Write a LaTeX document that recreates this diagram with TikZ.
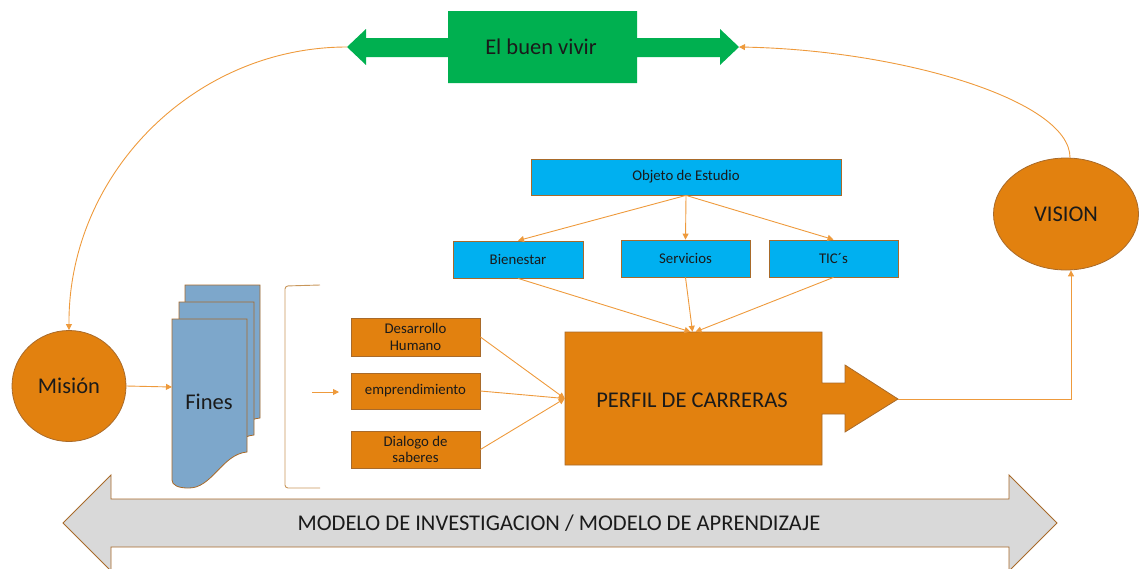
\documentclass[tikz,border=0pt]{standalone}
\usepackage{fontspec}
\setmainfont{Carlito}
\usetikzlibrary{arrows.meta,shapes.geometric}
\definecolor{orng}{HTML}{E2810F}
\definecolor{bordb}{HTML}{A86A2A}
\definecolor{cyanb}{HTML}{00B0F0}
\definecolor{greenb}{HTML}{00B050}
\definecolor{docblue}{HTML}{7DA7CB}
\definecolor{grayb}{HTML}{D9D9D9}
\definecolor{lineor}{HTML}{EE9A3C}
\definecolor{brk}{HTML}{C8965A}
\definecolor{txt}{HTML}{1A1A1A}
\tikzset{
  conn/.style={draw=lineor, line width=0.9pt, -{Triangle[length=6pt,width=6pt]}},
  obox/.style={draw=bordb, fill=orng, line width=0.8pt, minimum width=129pt, minimum height=37pt, inner sep=0pt, align=center, text=txt, font=\fontsize{14.8}{16.5}\selectfont},
  bbox/.style={draw=bordb, fill=cyanb, line width=0.8pt, minimum width=129pt, minimum height=37pt, inner sep=0pt, align=center, text=txt, font=\fontsize{14.8}{16.5}\selectfont},
  docshape/.style={draw=bordb, fill=docblue, line width=0.8pt},
  bigtxt/.style={font=\fontsize{22.5}{26}\selectfont, inner sep=0pt, text=txt}
}
\begin{document}
\begin{tikzpicture}[x=1pt,y=-1pt]
\useasboundingbox (0,0) rectangle (1139,568);
\clip (0,0) rectangle (1139,568);
% bottom double arrow
\draw[draw=bordb, fill=grayb, line width=0.9pt] (63,523) -- (111,475) -- (111,499) -- (1009,499) -- (1009,475) -- (1057,523) -- (1009,571) -- (1009,547) -- (111,547) -- (111,571) -- cycle;
\node[bigtxt] (modelo) at (559,523) {MODELO DE INVESTIGACION / MODELO DE APRENDIZAJE};
% El buen vivir
\fill[greenb] (448,11) -- (637,11) -- (637,38) -- (720,38) -- (720,29) -- (739,47) -- (720,65) -- (720,57) -- (637,57) -- (637,83) -- (448,83) -- (448,57) -- (366,57) -- (366,65) -- (347,47) -- (366,29) -- (366,38) -- (448,38) -- cycle;
\node[bigtxt] (buen) at (541,47) {El buen vivir};
\coordinate (bvL) at (347,47);
\coordinate (bvR) at (739,47);
% Mision
\node[ellipse, draw=bordb, fill=orng, line width=0.8pt, minimum width=114pt, minimum height=111pt, inner sep=0pt, text=txt, font=\fontsize{22.5}{26}\selectfont] (mision) at (69,386) {Misión};
% Vision
\node[ellipse, draw=bordb, fill=orng, line width=0.8pt, minimum width=145pt, minimum height=112pt, inner sep=0pt, text=txt, font=\fontsize{22.5}{26}\selectfont] (vision) at (1066,214) {VISION};
% Fines documents
\foreach \dx/\dy in {13/-34, 7/-17, 0/0}{
  \begin{scope}[shift={(\dx,\dy)}]
    \draw[docshape] (172,319) -- (247,319) -- (247,452) .. controls (222,454) and (212,489) .. (188,488) .. controls (178,488) and (172,485) .. (172,480) -- cycle;
  \end{scope}
}
\node[bigtxt] (fines) at (209,402) {Fines};
\coordinate (finesW) at (172,387);
% bracket
\draw[brk, line width=0.9pt, rounded corners=3pt] (320,285) -- (285,286) -- (285,488) -- (320,488);
\coordinate (brA) at (312,392);
\coordinate (brB) at (339,392);
% orange boxes
\node[obox, minimum height=38pt] (desa) at (415.5,337) {Desarrollo\\Humano};
\node[obox, minimum height=36pt] (empr) at (415.5,391) {emprendimiento};
\node[obox] (dial) at (415.5,449.5) {Dialogo de\\saberes};
% Perfil
\draw[draw=bordb, fill=orng, line width=0.8pt] (565,332) -- (822,332) -- (822,383) -- (845,383) -- (845,365) -- (898,399) -- (845,432) -- (845,414) -- (822,414) -- (822,465) -- (565,465) -- cycle;
\node[minimum width=257pt, minimum height=133pt, inner sep=0pt] (perfil) at (693.5,398.5) {};
\node[bigtxt] (perfiltxt) at (692,400) {PERFIL DE CARRERAS};
\coordinate (ptip) at (898,399);
% blue boxes
\node[bbox, minimum width=310pt, minimum height=36pt] (objeto) at (686,177) {Objeto de Estudio};
\node[bbox, minimum width=130pt] (bien) at (518,259.5) {Bienestar};
\node[bbox] (serv) at (685.5,258.5) {Servicios};
\node[bbox] (tic) at (833.5,258.5) {TIC´s};
% connectors
\draw[conn] (objeto.south) -- (bien.north);
\draw[conn] (objeto.south) -- (serv.north);
\draw[conn] (objeto.south) -- (tic.north);
\draw[conn] (bien.south) -- ([xshift=-3pt]perfil.north);
\draw[conn] (serv.south) -- ([xshift=-1pt]perfil.north);
\draw[conn] (tic.south) -- ([xshift=2pt]perfil.north);
\draw[conn] (desa.east) -- (perfil.west);
\draw[conn] (empr.east) -- (perfil.west);
\draw[conn] (dial.east) -- (perfil.west);
\draw[conn] (mision.east) -- (finesW);
\draw[conn] (brA) -- (brB);
\draw[conn] (ptip) -| ([xshift=5pt]vision.south);
\draw[conn] ([xshift=4pt]vision.north) .. controls (1070,100) and (900,50) .. (bvR);
\draw[conn] (bvL) .. controls (194,47) and (68,174) .. (mision.north);
\end{tikzpicture}
\end{document}
